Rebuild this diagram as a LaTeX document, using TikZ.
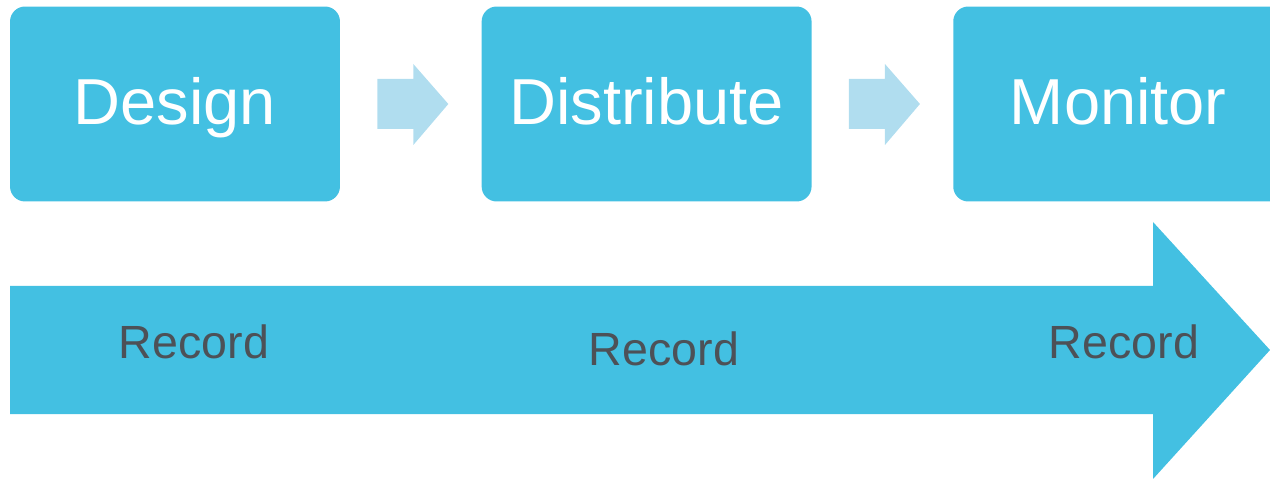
\documentclass[tikz,border=0pt]{standalone}
\usepackage{fontspec}
\setmainfont{Liberation Sans}
\usepackage{tikz}
\usetikzlibrary{positioning, calc}
\definecolor{stepblue}{HTML}{43C0E2}
\definecolor{paleblue}{HTML}{B0DDEF}
\definecolor{recordgray}{HTML}{4D5157}

\begin{document}
\begin{tikzpicture}[x=0.02cm, y=-0.02cm,
  stepbox/.style={fill=stepblue, rounded corners=0.3cm, minimum width=6.6cm,
    minimum height=3.9cm, text=white, font=\fontsize{37}{40}\selectfont,
    text height=26.5pt, text depth=3.4pt, inner sep=0pt},
  recordlabel/.style={anchor=base, text=recordgray, font=\fontsize{26.5}{30}\selectfont}]
  \useasboundingbox (0,0) rectangle (1270,479);

  % Stage boxes
  \node[stepbox] (design) at (175,104) {Design};
  \node[stepbox, right=2.82cm of design] (distribute) {Distribute};
  \node[stepbox, right=2.82cm of distribute] (monitor) {Monitor};

  % Small block arrows between the stages
  \foreach \from in {design, distribute} {
    \fill[paleblue] ($(\from.east)+(37,-25)$) -- ++(36,0) -- ++(0,-15)
      -- ++(35,40) -- ++(-35,41) -- ++(0,-16) -- ++(-36,0) -- cycle;
  }

  % Big arrow underneath
  \fill[stepblue] (10,286) -- (1153,286) -- (1153,222) -- (1270,350)
    -- (1153,479) -- (1153,414) -- (10,414) -- cycle;

  % Labels on the big arrow
  \node[recordlabel] (rec1) at (194,358) {Record};
  \node[recordlabel] (rec2) at (664,365) {Record};
  \node[recordlabel] (rec3) at (1124,358) {Record};
\end{tikzpicture}
\end{document}
